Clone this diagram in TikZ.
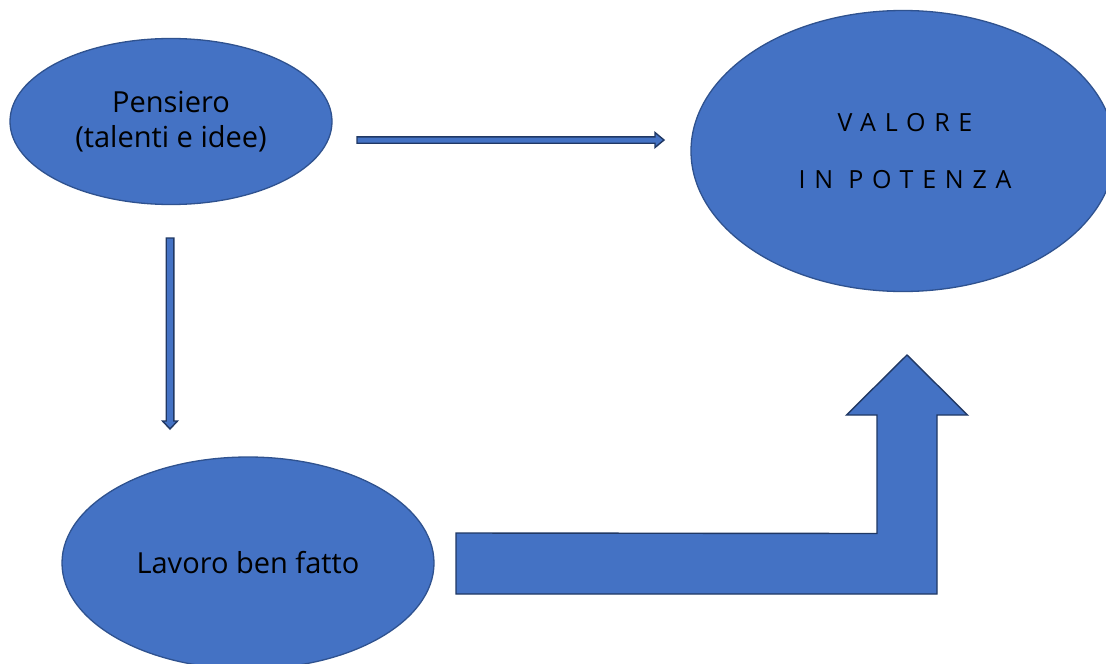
\documentclass[tikz,border=0pt]{standalone}
\usepackage{fontspec}
\setmainfont{Open Sans}
\usetikzlibrary{shapes.geometric,calc}
\definecolor{fillblue}{HTML}{4472C4}
\definecolor{edgeblue}{HTML}{2F528F}
\definecolor{darkedge}{HTML}{203864}
\tikzset{
  blob/.style={ellipse, draw=edgeblue, line width=1.3pt, fill=fillblue, inner sep=0pt, align=center, text=black},
  blockarrow/.style={draw=darkedge, line width=1.4pt, fill=fillblue, line join=miter},
}
\begin{document}
\begin{tikzpicture}[x=1pt,y=-1pt]
\useasboundingbox (0,0) rectangle (1106,664);
\clip (0,0) rectangle (1106,664);
\fill[white] (0,0) rectangle (1106,664);

\node[blob, minimum width=322pt, minimum height=166pt, font=\fontsize{29}{35}\selectfont] (pens) at (171,121.5) {Pensiero\\(talenti e idee)};
\node[blob, minimum width=424pt, minimum height=281pt] (val) at (903,151) {};
\node[align=center, font=\fontsize{25}{30}\selectfont\addfontfeature{LetterSpace=35}] (valt) at (905,151.5) {VALORE\\[27pt]IN POTENZA};
\node[blob, minimum width=372pt, minimum height=212pt, font=\fontsize{29}{35}\selectfont] (lav) at (248,563) {Lavoro ben fatto};

% thin horizontal arrow
\coordinate (h1) at (357,140);
\coordinate (h2) at (664,140);
\draw[blockarrow] ($(h1)+(0,-3.2)$) -- ($(h2)+(-9,-3.2)$) -- ($(h2)+(-9,-7.5)$) -- (h2) -- ($(h2)+(-9,7.5)$) -- ($(h2)+(-9,3.2)$) -- ($(h1)+(0,3.2)$) -- cycle;

% thin vertical arrow
\coordinate (v1) at (170,238);
\coordinate (v2) at (170,429);
\draw[blockarrow] ($(v1)+(-3.8,0)$) -- ($(v2)+(-3.8,-8)$) -- ($(v2)+(-7.5,-8)$) -- (v2) -- ($(v2)+(7.5,-8)$) -- ($(v2)+(3.8,-8)$) -- ($(v1)+(3.8,0)$) -- cycle;

% big bent-up arrow
\coordinate (b1) at (456,563.5);
\coordinate (b2) at (907,355);
\draw[blockarrow] ($(b1)+(0,-30.5)$) -- ($(b2)+(-30,178.5)$) -- ($(b2)+(-30,60)$) -- ($(b2)+(-60.5,60)$) -- (b2) -- ($(b2)+(60.5,60)$) -- ($(b2)+(30,60)$) -- ($(b2)+(30,239)$) -- ($(b1)+(0,30.5)$) -- cycle;
\end{tikzpicture}
\end{document}
